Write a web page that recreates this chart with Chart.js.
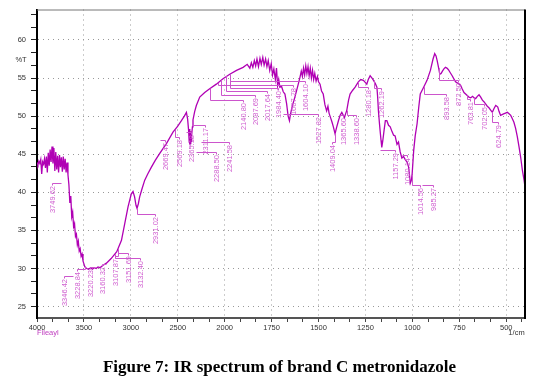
<!DOCTYPE html>
<html><head><meta charset="utf-8">
<script src="https://cdn.jsdelivr.net/npm/chart.js@4"></script>
<style>html,body{margin:0;padding:0;background:#fff}#wrap{position:relative;width:552px;height:383px}</style>
</head><body><div id="wrap"><canvas id="c" width="552" height="383"></canvas></div>
<script>
// ---- data (wavenumber in 1/cm, %T) ----
const wavenumbers = [4000,3990,3980,3970,3960,3950,3940,3930,3920,3910,3900,3890,3880,3870,3860,3850,3840,3830,3820,3810,3800,3790,3780,3770,3760,3750,3740,3730,3720,3710,3700,3690,3680,3670,3660,
3650,3640,3630,3620,3610,3600,3590,3580,3570,3560,3550,3540,3530,3520,3510,3500,3490,3470,3450,3430,3410,3390,3370,3350,3330,3300,3260,3210,3150,3100,3065,3030,2995,2977,2960,2945,2934,2920,2906,2880,2852,2820,2781,2740,2692,2621,2551,2500,2461,2430,2408,2395,2385,2378,2374,2370,2366,2362,2358,2354,2350,2344,2338,2320,2302,2266,2213,2160,2089,2018,
1973,1937,1902,1880,1866,1858,1850,1842,1835,1828,1820,1812,1805,1797,1790,1782,1775,1768,1760,1752,1745,1738,1730,1724,1718,1712,1706,1697,1688,1679,1670,1662,1655,1650,1640,1626,1608,1599,1592,1586,1580,1574,1568,1562,1556,1550,1544,1538,1532,1526,1520,1513,1506,1500,1492,1484,1475,1466,1457,1450,1444,1436,1428,1421,1412,1404,1394,1385,1376,1368,1362,1356,1350,1340,1332,1318,1305,1288,1275,1261,1250,1243,1235,1225,1215,1207,1198,1189,1185,1181,1176,1172,1167,1163,1158,1150,1144,1136,1127,1118,1109,1100,1092,1082,1074,1065,1056,1047,1038,1029,1020,1011,1005,1001,
993,985,975,966,958,940,922,904,890,881,874,868,860,854,847,840,832,824,816,808,798,788,779,770,757,744,735,725,712,699,689,679,671,663,654,645,636,627,619,610,601,592,583,574,565,556,550,545,538,530,522,514,504,494,485,476,468,459,450,441,432,423,414,405,400];
const transmittance = [43.9,43.6,44.1,43.8,44.3,42.4,44.0,43.7,44.4,43.2,44.7,42.6,45.2,43.5,45.6,44.0,46.0,43.8,45.8,42.8,45.3,43.0,44.8,42.6,44.9,43.3,44.6,42.7,44.7,43.0,44.4,42.6,43.9,42.3,41.0,
38.6,39.5,36.8,37.4,35.5,35.9,34.2,34.5,33.1,33.6,32.3,32.6,31.6,31.9,31.0,30.6,30.2,30.0,29.9,30.1,29.9,30.1,30.0,30.2,30.1,30.4,30.7,31.3,32.2,33.7,35.9,38.1,39.8,40.1,39.4,38.3,37.9,38.5,39.4,40.5,41.6,42.4,43.3,44.2,45.1,46.4,47.9,48.7,49.4,50.0,50.5,49.6,48.2,46.6,48.3,46.4,48.0,46.3,47.9,46.6,47.5,48.6,49.5,50.6,51.4,52.5,53.1,53.6,54.2,54.9,
55.5,56.0,56.4,56.8,56.3,57.0,56.4,57.3,56.6,57.5,56.5,57.6,56.8,57.7,56.7,57.5,56.5,57.3,56.0,56.9,55.4,56.2,54.8,56.3,54.0,54.8,53.8,53.9,53.2,52.9,51.6,50.0,49.4,50.2,51.3,52.5,54.2,55.1,55.9,55.2,56.3,55.4,56.6,55.6,56.5,55.3,56.3,55.0,56.0,54.8,55.6,54.6,55.2,54.5,54.2,53.3,52.9,51.5,50.7,51.3,50.4,49.8,49.2,48.6,47.7,48.5,49.4,50.1,50.5,50.1,49.8,50.3,50.7,52.1,52.9,53.4,53.8,54.5,54.8,54.7,54.4,54.2,54.8,55.3,55.0,54.7,54.3,53.8,52.5,50.7,49.2,48.1,46.8,45.9,46.7,48.3,49.4,49.4,48.8,48.6,48.0,47.5,47.4,46.3,46.6,45.3,44.5,44.7,44.3,44.0,43.3,41.2,41.6,42.5,
45.5,47.4,49.0,51.2,52.9,53.8,54.7,56.0,57.5,58.2,57.9,57.3,56.3,55.5,55.6,55.9,56.2,56.4,56.3,56.1,55.7,55.3,54.9,54.5,54.3,54.1,53.6,53.1,52.8,52.5,52.4,52.6,52.4,52.3,52.6,52.8,52.5,52.1,51.9,51.6,51.3,51.1,50.8,50.5,51.0,51.4,51.3,51.2,50.6,50.1,50.2,50.3,50.4,50.5,50.3,50.1,49.7,49.2,48.4,47.3,46.0,44.6,42.9,41.6,40.7];

const xTickValues = [4000,3500,3000,2500,2000,1750,1500,1250,1000,750,500];
const yTickValues = [25,30,35,40,45,50,55,60];

const peakLabels = ["3749.62","3346.42","3228.84","3220.23","3160.32","3107.87","3151.69","3132.40","2931.02",
"2669.47","2569.18","2365.18","2311.17","2288.50","2241.58","2140.80","2087.69","2017.64","1984.40",
"1667.78","1604.10","1527.82","1409.04","1365.60","1338.60","1280.18","1262.19","1157.29","1080.14",
"1014.56","985.27","893.58","872.50","763.81","702.05","624.79"];

// ---- annotation layout (in data units) ----
const labelAtW   = [3838,3716,3572,3438,3311,3172,3034,2906,2746, 2632,2490,2355,2213,2089,1977,1905,1840,1777,1715, 1635,1572,1501,1430,1368,1300,1234,1166,1091,1029, 958,890,823,759,691,620,545];
const leaderAtT  = [41.19,29.02,29.93,30.26,30.65,31.64,32.03,31.37,37.13, 46.82,47.25,47.91,48.78,45.29,46.6,52.06,52.71,53.27,53.72, 54.08,54.67,50.31,46.6,50.09,50.09,53.8,53.72,45.51,44.86, 40.93,40.93,52.93,54.8,52.28,51.62,49.21];
const leaderFromW= [3740,3620,3492,3385,3268,3140,3140,3172,2934, 2693,2533,2408,2338,2302,2250,2160,2035,1991,1973, 2073,1973,1688,1412,1385,1350,1288,1207,1172,1056, 1002,949,940,860,709,673,575];

const toPos = w => w >= 2000 ? (4000 - w) / 500 : 4 + (2000 - w) / 250;
const fromPos = t => t <= 4 ? 4000 - t * 500 : 2000 - (t - 4) * 250;
const isInt = v => Math.abs(v - Math.round(v)) < 1e-6;
function curveAt(w){
  for (let i=0;i<wavenumbers.length-1;i++){
    const a=wavenumbers[i], b=wavenumbers[i+1];
    if (w<=a && w>=b){ const f=(a-w)/(a-b); return transmittance[i]+(transmittance[i+1]-transmittance[i])*f; }
  }
  return transmittance[transmittance.length-1];
}

const points = wavenumbers.map((w,i)=>({x: toPos(w), y: transmittance[i]}));

const FONT = '"Liberation Sans", Arial, sans-serif';

const peakPlugin = {
  id:'peaks',
  afterDatasetsDraw(chart){
    const {ctx} = chart; const xs=chart.scales.x, ys=chart.scales.y;
    ctx.save();
    ctx.lineWidth=1; ctx.strokeStyle='#cc55cc'; ctx.fillStyle='#d060d0';
    ctx.font='7.5px '+FONT;
    peakLabels.forEach((txt,i)=>{
      const lx=Math.round(xs.getPixelForValue(toPos(labelAtW[i])))+0.5;
      const ly=Math.round(ys.getPixelForValue(leaderAtT[i]))+0.5;
      const sx=Math.round(xs.getPixelForValue(toPos(leaderFromW[i])))+0.5;
      const cT=curveAt(leaderFromW[i]);
      ctx.beginPath();
      if (cT-leaderAtT[i]>0 && cT-leaderAtT[i]<2.2){ ctx.moveTo(sx, ys.getPixelForValue(cT)); ctx.lineTo(sx, ly); }
      else ctx.moveTo(sx, ly);
      ctx.lineTo(lx, ly); ctx.lineTo(lx, ly+2);
      ctx.stroke();
      ctx.save();
      ctx.translate(lx, ly+2.5); ctx.rotate(-Math.PI/2);
      ctx.textAlign='right'; ctx.textBaseline='middle';
      ctx.fillText(txt,0,0);
      ctx.restore();
    });
    ctx.restore();
  },
  afterDraw(chart){
    const {ctx, chartArea:a} = chart;
    ctx.save();
    ctx.strokeStyle='#777'; ctx.lineWidth=1;
    ctx.beginPath(); ctx.moveTo(a.left, a.top+0.5); ctx.lineTo(a.right, a.top+0.5); ctx.stroke();
    ctx.strokeStyle='#000'; ctx.lineWidth=2;
    ctx.beginPath(); ctx.moveTo(a.right, a.top); ctx.lineTo(a.right, a.bottom+1); ctx.stroke();
    ctx.fillStyle='#333'; ctx.font='7.5px '+FONT; ctx.textAlign='center'; ctx.textBaseline='middle';
    ctx.fillText('%T', 21, 60);
    ctx.fillText('1/cm', 516.5, 332.5);
    ctx.fillStyle='#c040c0'; ctx.textAlign='left';
    ctx.fillText('Fileayl', 37, 332.5);
    ctx.fillStyle='#000'; ctx.textAlign='center'; ctx.textBaseline='alphabetic';
    ctx.font='bold 17px "Liberation Serif", "Times New Roman", serif';
    ctx.fillText('Figure 7: IR spectrum of brand C metronidazole', 279.5, 372);
    ctx.restore();
  }
};

new Chart(document.getElementById('c'), {
  type:'line',
  data:{ datasets:[{ data: points, borderColor:'#b000b4', borderWidth:1.3, pointRadius:0, tension:0, fill:false }] },
  options:{
    responsive:false, animation:false, devicePixelRatio:1,
    layout:{ padding:{ left:0, right:27, top:9, bottom:45 } },
    plugins:{ legend:{display:false}, tooltip:{enabled:false} },
    scales:{
      x:{ type:'linear', min:0, max:10.4,
        afterFit: s => { s.height = 20; },
        afterBuildTicks: s => { const t=[]; for(let k=0;k<=31;k++) t.push({value:k/3}); s.ticks=t; },
        ticks:{ autoSkip:false, maxRotation:0, padding:1, color:'#333', font:{size:7.5, family:FONT},
          callback: v => { if(!isInt(v)) return ''; const w=Math.round(fromPos(v)); return xTickValues.includes(w)? String(w):''; } },
        grid:{ color: c => (c.tick && isInt(c.tick.value) && c.tick.value>0) ? '#999' : 'rgba(0,0,0,0)',
          tickColor:'#444', tickLength:4, lineWidth:1 },
        border:{ color:'#555', width:2, dash:[1,4] }
      },
      y:{ type:'linear', min:23.5, max:64,
        afterFit: s => { s.width = 37; },
        afterBuildTicks: s => { const t=[]; for(let k=0;k<=23;k++) t.push({value:25+k*5/3}); s.ticks=t; },
        ticks:{ autoSkip:false, padding:5, color:'#333', font:{size:7.5, family:FONT},
          callback: v => { const r=Math.round(v); return (isInt(v) && yTickValues.includes(r)) ? String(r) : ''; } },
        grid:{ color: c => (c.tick && isInt(c.tick.value) && yTickValues.includes(Math.round(c.tick.value))) ? '#999' : 'rgba(0,0,0,0)',
          tickColor:'#222', tickLength:6, lineWidth:1 },
        border:{ color:'#000', width:2, dash:[1,4] }
      }
    }
  },
  plugins:[peakPlugin]
});
</script>
</body></html>
